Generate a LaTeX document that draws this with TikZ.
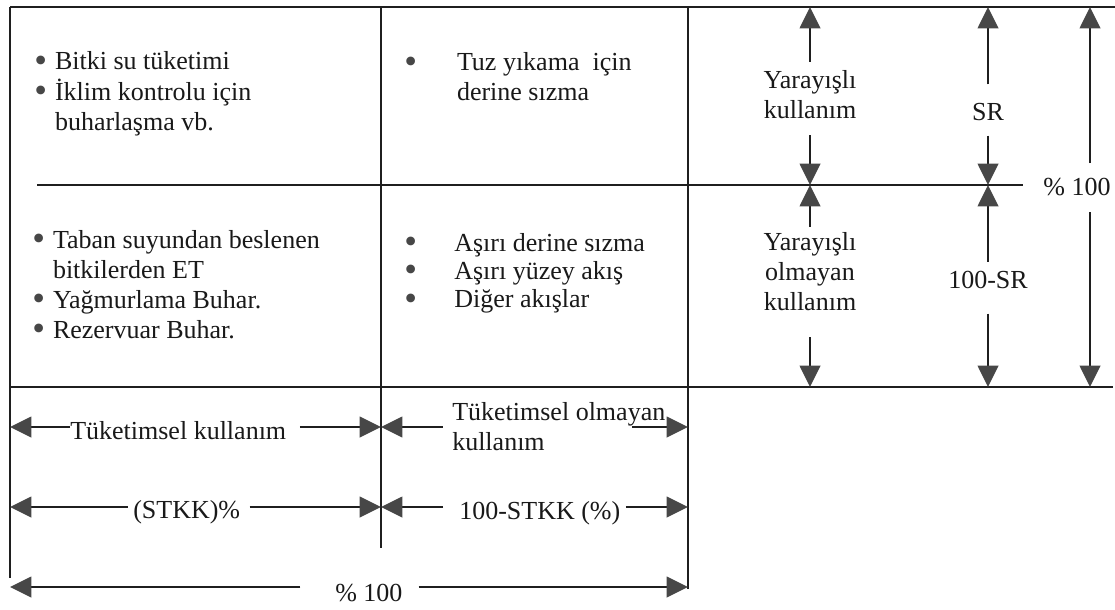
\documentclass[tikz,border=0pt]{standalone}
\usepackage{fontspec}
\setmainfont{Liberation Serif}
\usetikzlibrary{arrows.meta}
\newcommand{\mybul}{\raisebox{-0.09em}{\scalebox{1.4}{\textcolor{black!72}{\textbullet}}}}
\begin{document}
\begin{tikzpicture}[x=0.75pt,y=-0.75pt,
  frame/.style={line width=1.2pt, draw=black!88},
  arr/.style={line width=1.2pt, draw=black!88, -{Triangle[length=16pt,width=15.5pt,color=black!72]}},
  lbl/.style={inner sep=0pt, font=\fontsize{19.5pt}{22.5pt}\selectfont, text=black!90},
  blk/.style={lbl, anchor=base west},
]
\useasboundingbox[fill=white] (0,0) rectangle (1115,610);

% frame
\draw[frame] (10,7) -- (1115,7);
\draw[frame] (37,185) -- (1023,185);
\draw[frame] (10,387) -- (1113,387);
\draw[frame] (10,7) -- (10,578);
\draw[frame] (381,7) -- (381,548);
\draw[frame] (688,7) -- (688,589);

% cell texts
\node[blk] (tl) at (34,70) {\begin{tabular}[t]{@{}c@{\hspace{6pt}}l@{}}\mybul & Bitki su tüketimi\\ \mybul & İklim kontrolu için\\ & buharlaşma vb.\end{tabular}};
\node[blk] (tm) at (404,71) {\begin{tabular}[t]{@{}c@{\hspace{30pt}}l@{}}\mybul & Tuz yıkama\ \ için\\ & derine sızma\end{tabular}};
\node[blk] (bl) at (32,248) {\begin{tabular}[t]{@{}c@{\hspace{6pt}}l@{}}\mybul & Taban suyundan beslenen\\ & bitkilerden ET\\ \mybul & Yağmurlama Buhar.\\ \mybul & Rezervuar Buhar.\end{tabular}};
\node[blk] (bm) at (404,251) {\renewcommand{\arraystretch}{0.95}\begin{tabular}[t]{@{}c@{\hspace{28pt}}l@{}}\mybul & Aşırı derine sızma\\ \mybul & Aşırı yüzey akış\\ \mybul & Diğer akışlar\end{tabular}};

% right column labels
\node[lbl, align=center] (yk) at (810,95) {Yarayışlı\\kullanım};
\node[lbl] (sr) at (988,112) {SR};
\node[lbl, align=center] (yok) at (810,272) {Yarayışlı\\olmayan\\kullanım};
\node[lbl] (sr2) at (988,280) {100-SR};
\node[lbl] (pr) at (1077,187) {\% 100};

\coordinate (a1t) at (810,7);  \coordinate (a1m) at (810,185); \coordinate (a1b) at (810,387);
\coordinate (a2t) at (988,7);  \coordinate (a2m) at (988,185); \coordinate (a2b) at (988,387);
\coordinate (a3t) at (1090,7); \coordinate (a3b) at (1090,387);

\draw[arr, shorten <=6.75pt] (yk.north) -- (a1t);
\draw[arr, shorten <=12pt] (yk.south) -- (a1m);
\draw[arr, shorten <=4.5pt] (yok.north) -- (a1m);
\draw[arr, shorten <=19.5pt] (yok.south) -- (a1b);
\draw[arr, shorten <=14pt] (sr.north) -- (a2t);
\draw[arr, shorten <=11pt] (sr.south) -- (a2m);
\draw[arr, shorten <=7pt] (sr2.north) -- (a2m);
\draw[arr, shorten <=18.5pt] (sr2.south) -- (a2b);
\draw[arr, shorten <=11pt] (a3t |- pr.north) -- (a3t);
\draw[arr, shorten <=12pt] (a3t |- pr.south) -- (a3b);

% bottom labels
\node[lbl, anchor=west] (tk) at (70,431) {Tüketimsel kullanım};
\node[blk] (tok) at (452,420) {\begin{tabular}[t]{@{}l@{}}Tüketimsel olmayan\\kullanım\end{tabular}};
\node[lbl, anchor=west] (stkk) at (133,512) {(STKK)\%};
\node[lbl, anchor=west] (nstkk) at (459,513) {100-STKK (\%)};
\node[lbl, anchor=west] (pb) at (335,593) {\% 100};

\coordinate (r1l) at (10,427); \coordinate (r1m) at (381,427); \coordinate (r1r) at (688,427);
\coordinate (r2l) at (10,507); \coordinate (r2m) at (381,507); \coordinate (r2r) at (688,507);
\coordinate (r3l) at (10,587); \coordinate (r3r) at (688,587);

\draw[arr] (tk.west |- r1l) -- (r1l);
\draw[arr, shorten <=10pt] (tk.east |- r1l) -- (r1m);
\draw[arr, shorten <=7pt] (tok.west |- r1m) -- (r1m);
\draw[arr, shorten <=-25pt] (tok.east |- r1r) -- (r1r);
\draw[arr, shorten <=4pt] (stkk.west |- r2l) -- (r2l);
\draw[arr, shorten <=7pt] (stkk.east |- r2l) -- (r2m);
\draw[arr, shorten <=12pt] (nstkk.west |- r2m) -- (r2m);
\draw[arr, shorten <=4pt] (nstkk.east |- r2r) -- (r2r);
\draw[arr, shorten <=26pt] (pb.west |- r3l) -- (r3l);
\draw[arr, shorten <=12pt] (pb.east |- r3r) -- (r3r);
\end{tikzpicture}
\end{document}
